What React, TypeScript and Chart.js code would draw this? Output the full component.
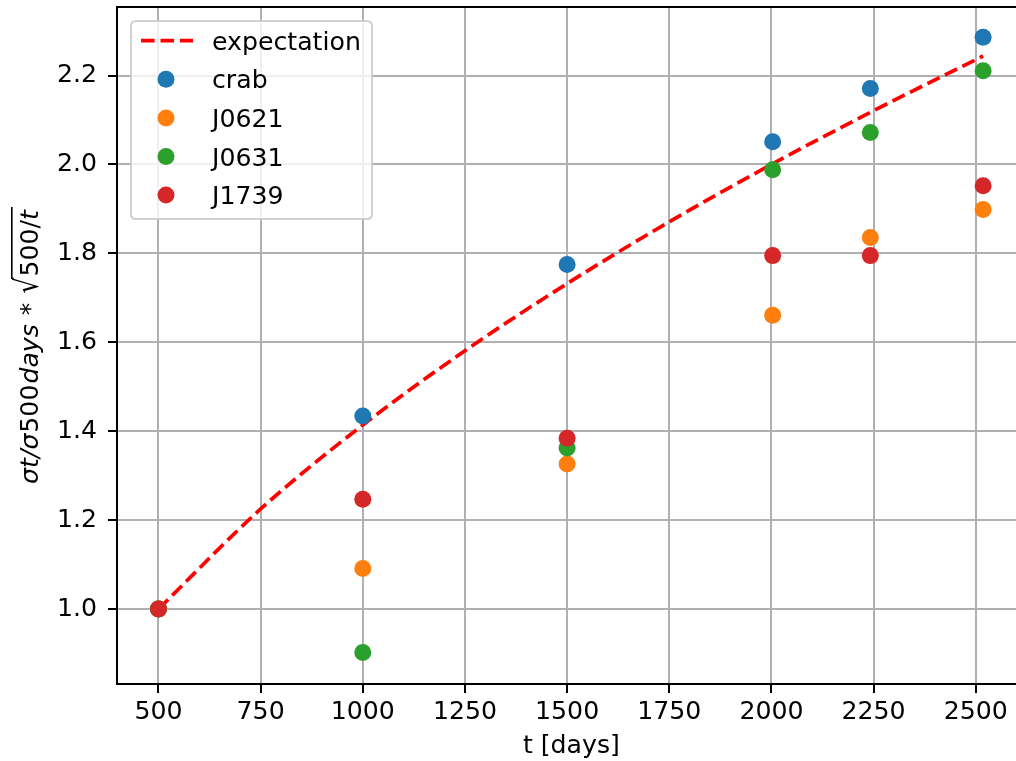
import { useEffect, useRef } from 'react';
import { Chart, registerables } from 'chart.js';

Chart.register(...registerables);

// Observation epochs (days) and normalised scatter for each pulsar
const tDays = [500, 1000, 1500, 2003, 2242, 2518];
const crab = [1.0, 1.434, 1.775, 2.051, 2.171, 2.286];
const j0621 = [1.0, 1.091, 1.326, 1.661, 1.836, 1.899];
const j0631 = [1.0, 0.902, 1.362, 1.988, 2.072, 2.211];
const j1739 = [1.0, 1.247, 1.384, 1.795, 1.795, 1.952];

// Expected growth curve
const expectT = [500, 750, 1000, 1250, 1500, 1750, 2000, 2250, 2518];
const expectV = [1.0, 1.225, 1.414, 1.581, 1.732, 1.871, 2.0, 2.121, 2.244];

const seriesNames = ['crab', 'J0621', 'J0631', 'J1739'];
const seriesValues = [crab, j0621, j0631, j1739];
const seriesColors = ['#1f77b4', '#ff7f0e', '#2ca02c', '#d62728'];

const xTicks = [500, 750, 1000, 1250, 1500, 1750, 2000, 2250, 2500];
const yTicks = [1.0, 1.2, 1.4, 1.6, 1.8, 2.0, 2.2];

const FAMILY = '"DejaVu Sans", sans-serif';
const FS = 25.2;
const DASH = [13.6, 5.9];
const MARKER_R = 8.5;

const decorations = {
  id: 'decorations',
  afterDraw(chart: any) {
    const ctx: CanvasRenderingContext2D = chart.ctx;
    const a = chart.chartArea;
    ctx.save();

    // top spine
    ctx.strokeStyle = '#000';
    ctx.lineWidth = 2;
    ctx.beginPath();
    ctx.moveTo(a.left - 1, a.top);
    ctx.lineTo(a.right, a.top);
    ctx.stroke();

    // legend frame
    const lx = 131, ly = 21, lw = 241, lh = 198, r = 5;
    ctx.beginPath();
    ctx.moveTo(lx + r, ly);
    ctx.lineTo(lx + lw - r, ly);
    ctx.quadraticCurveTo(lx + lw, ly, lx + lw, ly + r);
    ctx.lineTo(lx + lw, ly + lh - r);
    ctx.quadraticCurveTo(lx + lw, ly + lh, lx + lw - r, ly + lh);
    ctx.lineTo(lx + r, ly + lh);
    ctx.quadraticCurveTo(lx, ly + lh, lx, ly + lh - r);
    ctx.lineTo(lx, ly + r);
    ctx.quadraticCurveTo(lx, ly, lx + r, ly);
    ctx.closePath();
    ctx.fillStyle = 'rgba(255,255,255,0.8)';
    ctx.fill();
    ctx.strokeStyle = 'rgba(204,204,204,0.9)';
    ctx.lineWidth = 2;
    ctx.stroke();

    const rowY = [40.7, 79.3, 117.9, 156.5, 195.1];
    const labels = ['expectation', ...seriesNames];
    ctx.font = `${FS}px ${FAMILY}`;
    ctx.textBaseline = 'alphabetic';
    ctx.textAlign = 'left';
    labels.forEach((lab, i) => {
      const y = rowY[i];
      if (i === 0) {
        ctx.strokeStyle = '#ff0000';
        ctx.lineWidth = 3.7;
        ctx.lineCap = 'butt';
        ctx.setLineDash(DASH);
        ctx.beginPath();
        ctx.moveTo(141, y);
        ctx.lineTo(193, y);
        ctx.stroke();
        ctx.setLineDash([]);
      } else {
        ctx.fillStyle = seriesColors[i - 1];
        ctx.beginPath();
        ctx.arc(166, y, MARKER_R, 0, Math.PI * 2);
        ctx.fill();
      }
      ctx.fillStyle = '#000';
      ctx.fillText(lab, 212, y + 9.1);
    });

    // x axis title
    ctx.font = `${FS}px ${FAMILY}`;
    ctx.textAlign = 'center';
    ctx.fillStyle = '#000';
    ctx.fillText('t [days]', 571.4, 753);

    // y axis title with radical
    const yc = (a.top + a.bottom) / 2;
    ctx.translate(37.5, yc);
    ctx.rotate(-Math.PI / 2);
    ctx.textAlign = 'left';
    const it = `italic ${FS}px ${FAMILY}`;
    const up = `${FS}px ${FAMILY}`;
    const parts: [string, string, number][] = [
      ['σt/σ', it, 1],
      ['500', up, 1],
      ['days', it, 9],
      ['*', up, 9],
      ['√', up, 1],
      ['500/', up, 0],
      ['t', it, 3],
    ];
    let total = 0;
    for (const [s, f, gap] of parts) {
      ctx.font = f;
      total += ctx.measureText(s).width + gap;
    }
    const overY = -26.5;
    let x = -total / 2;
    let overStart = 0;
    for (const [s, f, gap] of parts) {
      ctx.font = f;
      const m = ctx.measureText(s);
      if (s === '√') {
        // stretch the radical so it reaches the vinculum
        const k = -overY / m.actualBoundingBoxAscent;
        ctx.save();
        ctx.translate(x, 0);
        ctx.scale(1, k);
        ctx.fillText(s, 0, 0);
        ctx.restore();
        overStart = x + m.width - 1.5;
      } else {
        ctx.fillText(s, x, 0);
      }
      x += m.width + gap;
    }
    ctx.strokeStyle = '#000';
    ctx.lineWidth = 1.6;
    ctx.beginPath();
    ctx.moveTo(overStart, overY + 0.8);
    ctx.lineTo(x, overY + 0.8);
    ctx.stroke();

    ctx.restore();
  },
};

export default function App() {
  const ref = useRef<HTMLCanvasElement | null>(null);

  useEffect(() => {
    if (!ref.current) return;
    const gridCommon = {
      color: '#b0b0b0',
      lineWidth: 2,
      tickLength: 9,
      tickColor: '#000',
      tickWidth: 2,
    };
    const tickFont = { family: FAMILY, size: FS };

    const chart = new Chart(ref.current, {
      type: 'scatter',
      data: {
        datasets: [
          {
            label: 'expectation',
            data: expectT.map((t, i) => ({ x: t, y: expectV[i] })),
            showLine: true,
            borderColor: '#ff0000',
            borderWidth: 3.7,
            borderDash: DASH,
            borderCapStyle: 'butt',
            pointRadius: 0,
            cubicInterpolationMode: 'monotone',
            fill: false,
            order: 5,
          } as any,
          ...seriesNames.map((name, k) => ({
            label: name,
            data: tDays.map((t, i) => ({ x: t, y: seriesValues[k][i] })),
            backgroundColor: seriesColors[k],
            borderColor: seriesColors[k],
            borderWidth: 0,
            pointRadius: MARKER_R,
            pointHoverRadius: MARKER_R,
            order: 4 - k,
          })),
        ],
      },
      options: {
        animation: false,
        responsive: false,
        devicePixelRatio: 1,
        events: [],
        layout: { autoPadding: false, padding: { top: 7, left: 0, right: 0, bottom: 0 } },
        plugins: { legend: { display: false }, tooltip: { enabled: false } },
        scales: {
          x: {
            type: 'linear',
            min: 398.5,
            max: 2598.5,
            afterBuildTicks: (s: any) => {
              s.ticks = xTicks.map((v) => ({ value: v }));
            },
            afterFit: (s: any) => {
              s.height = 77;
              s.paddingLeft = 0;
              s.paddingRight = 0;
              s.paddingTop = 0;
              s.paddingBottom = 0;
            },
            grid: gridCommon,
            border: { color: '#000', width: 2 },
            ticks: {
              font: tickFont,
              color: '#000',
              padding: 4,
              maxRotation: 0,
              autoSkip: false,
              callback: (v: any) => String(v),
            },
          },
          y: {
            type: 'linear',
            min: 0.8313,
            max: 2.3543,
            afterBuildTicks: (s: any) => {
              s.ticks = yTicks.map((v) => ({ value: v }));
            },
            afterFit: (s: any) => {
              s.width = 117;
              s.paddingLeft = 0;
              s.paddingRight = 0;
              s.paddingTop = 0;
              s.paddingBottom = 0;
            },
            grid: gridCommon,
            border: { color: '#000', width: 2 },
            ticks: {
              font: tickFont,
              color: '#000',
              padding: 11,
              autoSkip: false,
              callback: (v: any) => Number(v).toFixed(1),
            },
          },
        },
      },
      plugins: [decorations],
    });
    return () => chart.destroy();
  }, []);

  return (
    <div style={{ position: 'absolute', left: 0, top: 0, width: 1016, height: 761, background: '#fff' }}>
      <canvas ref={ref} width={1016} height={761} style={{ display: 'block' }} />
    </div>
  );
}
